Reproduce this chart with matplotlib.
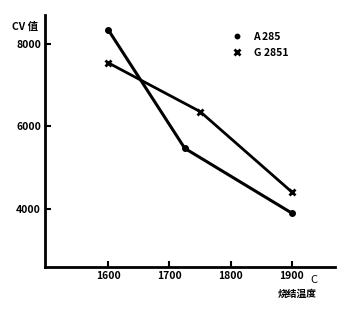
import numpy as np
import matplotlib.pyplot as plt

plt.rcParams['font.family'] = ['Noto Sans CJK SC', 'DejaVu Sans']

# data
temp_a = [1600, 1725, 1900]
cv_a = [8340, 5470, 3900]

temp_g = [1600, 1750, 1900]
cv_g = [7540, 6360, 4410]

xticks = [1600, 1700, 1800, 1900]
yticks = [4000, 6000, 8000]

fig = plt.figure(figsize=(3.47, 3.10), dpi=100)
ax = fig.add_axes([0.130, 0.139, 0.835, 0.813])

ax.plot(temp_a, cv_a, color='black', lw=2.2, marker='o', ms=4, label='A 285')
ax.plot(temp_g, cv_g, color='black', lw=2.0, marker='x', ms=5, mew=2, label='G 2851')

ax.set_xlim(1497, 1970)
ax.set_ylim(2600, 8700)
ax.set_xticks(xticks)
ax.set_yticks(yticks)
ax.tick_params(direction='in', length=4, width=1.5, labelsize=7.5, pad=3)
for lab in ax.get_xticklabels() + ax.get_yticklabels():
    lab.set_fontweight('bold')

for s in ['top', 'right']:
    ax.spines[s].set_visible(False)
for s in ['left', 'bottom']:
    ax.spines[s].set_linewidth(2)

# axis labels
fig.text(0.035, 0.915, 'CV 值', fontsize=7.5, fontweight='bold', ha='left', va='center')
fig.text(0.895, 0.098, 'C', fontsize=8, ha='left', va='center')
fig.text(0.80, 0.052, '烧结温度', fontsize=7, fontweight='bold', ha='left', va='center')

# legend
leg = ax.legend(loc='upper left', bbox_to_anchor=(0.615, 0.97), frameon=False,
                handlelength=0.8, handletextpad=1.2, labelspacing=0.6,
                markerscale=0.8, prop={'weight': 'bold', 'size': 7.5})
for h in leg.legend_handles:
    h.set_linestyle('none')

fig.savefig('out.png', dpi=100)
